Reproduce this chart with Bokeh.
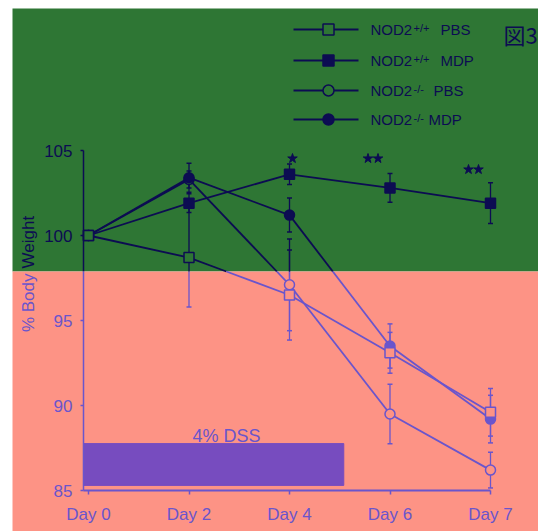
import math
from bokeh.plotting import figure
from bokeh.models import Range1d, LinearAxis, FixedTicker, BoxAnnotation
from bokeh.core.properties import value
from bokeh.embed import file_html
from bokeh.resources import INLINE

# ---------------- data ----------------
days = ["Day 0", "Day 2", "Day 4", "Day 6", "Day 7"]
day_idx = [0, 1, 2, 3, 4]

wt_pbs = [100, 98.7, 96.5, 93.1, 89.6]
wt_pbs_err = [0, 2.9, 2.65, 1.2, 1.4]
wt_mdp = [100, 101.9, 103.6, 102.8, 101.9]
wt_mdp_err = [0, 0.55, 0.6, 0.85, 1.2]
ko_pbs = [100, 103.3, 97.1, 89.5, 86.2]
ko_pbs_err = [0, 0.5, 2.7, 1.75, 1.05]
ko_mdp = [100, 103.4, 101.2, 93.5, 89.2]
ko_mdp_err = [0, 0.85, 1.0, 1.3, 1.4]

legend_names = ["NOD2", "NOD2", "NOD2", "NOD2"]
legend_sups = ["+/+", "+/+", "-/-", "-/-"]
legend_treat = ["PBS", "MDP", "PBS", "MDP"]

y_ticks = [85, 90, 95, 100, 105]
sig_days = [2, 3, 4]
sig_marks = ["*", "**", "**"]
dss_start, dss_end = -0.05, 2.54
dss_low, dss_high = 85.3, 87.76
dss_label = "4% DSS"

# ---------------- layout / style ----------------
W, H = 538, 531
X0_PX, XSTEP_PX = 88.0, 100.5
Y100_PX, YUNIT_PX = 235.0, 17.0

def px2x(px):
    return (px - X0_PX) / XSTEP_PX

def px2y(py):
    return 100 + (Y100_PX - py) / YUNIT_PX

YB = px2y(271)          # colour boundary
GREEN = "#2e7634"
SALMON = "#fd9385"
NAVY = "#0c0c52"
PURPLE = "#6a55cc"
BAR = "#774cbf"
FONT = "Liberation Sans"
AX_X = px2x(83)

def col(y):
    return NAVY if y > YB else PURPLE

def bg(y):
    return GREEN if y > YB else SALMON

p = figure(width=W, height=H, output_backend="svg", toolbar_location=None,
           x_range=Range1d(px2x(0), px2x(W)), y_range=Range1d(px2y(H), px2y(0)),
           x_axis_location=None, y_axis_location=None, min_border=0,
           background_fill_color="white", border_fill_color="white")
p.grid.visible = False
p.outline_line_color = None

p.add_layout(BoxAnnotation(left=px2x(12), bottom=YB, top=px2y(8), fill_color=GREEN,
                           fill_alpha=1, line_color=None, level="underlay"))
p.add_layout(BoxAnnotation(left=px2x(12), top=YB, fill_color=SALMON, fill_alpha=1,
                           line_color=None, level="underlay"))

# DSS bar
p.quad(left=[dss_start], right=[dss_end], bottom=[dss_low], top=[dss_high],
       fill_color=BAR, line_color=BAR, line_width=1)
p.text(x=[px2x(226)], y=[px2y(435)], text=[dss_label],
       text_font=value(FONT), text_font_size="18px", text_color=PURPLE,
       text_align="center", text_baseline="middle")

# axes
def yaxis(lo, hi, ticks, c):
    ax = LinearAxis(fixed_location=AX_X, bounds=(lo, hi), ticker=FixedTicker(ticks=ticks),
                    axis_line_color=c, axis_line_width=1.5, major_tick_line_color=c,
                    major_tick_line_width=1.5, major_tick_out=3, major_tick_in=0,
                    minor_tick_line_color=None, major_label_text_color=c,
                    major_label_text_font=FONT, major_label_text_font_size="17px",
                    major_label_standoff=8)
    p.add_layout(ax, "left")

yaxis(YB, 105, [t for t in y_ticks if t > YB], NAVY)
yaxis(85, YB, [t for t in y_ticks if t < YB], PURPLE)

xax = LinearAxis(fixed_location=85, bounds=(AX_X, 4), ticker=FixedTicker(ticks=day_idx),
                 major_label_overrides={i: d for i, d in zip(day_idx, days)},
                 axis_line_color=PURPLE, axis_line_width=2, major_tick_line_color=PURPLE,
                 major_tick_line_width=1.5, major_tick_out=4, major_tick_in=0,
                 minor_tick_line_color=None, major_label_text_color=PURPLE,
                 major_label_text_font=FONT, major_label_text_font_size="17px",
                 major_label_standoff=10)
p.add_layout(xax, "below")

# y axis title split in two colours
p.text(x=[px2x(28)], y=[px2y(273)], text=["% Body"], angle=math.pi / 2,
       text_font=value(FONT), text_font_size="17px", text_color=PURPLE,
       text_align="right", text_baseline="middle")
p.text(x=[px2x(28)], y=[px2y(268)], text=["Weight"], angle=math.pi / 2,
       text_font=value(FONT), text_font_size="17px", text_color=NAVY,
       text_align="left", text_baseline="middle")

# split helpers
def split_line(xs, ys):
    x0s, y0s, x1s, y1s, cs = [], [], [], [], []
    for i in range(len(xs) - 1):
        pts = [(xs[i], ys[i])]
        if (ys[i] - YB) * (ys[i + 1] - YB) < 0:
            t = (YB - ys[i]) / (ys[i + 1] - ys[i])
            pts.append((xs[i] + t * (xs[i + 1] - xs[i]), YB))
        pts.append((xs[i + 1], ys[i + 1]))
        for (a, b), (c, d) in zip(pts[:-1], pts[1:]):
            x0s.append(a); y0s.append(b); x1s.append(c); y1s.append(d)
            cs.append(col((b + d) / 2))
    return dict(x0=x0s, y0=y0s, x1=x1s, y1=y1s, c=cs)

series = [
    (wt_pbs, wt_pbs_err, "square", True),
    (wt_mdp, wt_mdp_err, "square", False),
    (ko_pbs, ko_pbs_err, "circle", True),
    (ko_mdp, ko_mdp_err, "circle", False),
]
draw_order = [2, 3, 1, 0]

CAP = 2.5 / XSTEP_PX
for vals, errs, mk, hollow in series:
    for xi, v, e in zip(day_idx, vals, errs):
        if e <= 0:
            continue
        seg = split_line([xi, xi], [v - e, v + e])
        p.segment("x0", "y0", "x1", "y1", source=seg, line_color="c", line_width=1.3)
        p.segment(x0=[xi - CAP, xi - CAP], y0=[v - e, v + e], x1=[xi + CAP, xi + CAP],
                  y1=[v - e, v + e], line_color=[col(v - e), col(v + e)], line_width=1.5)

for vals, errs, mk, hollow in series:
    seg = split_line(day_idx, vals)
    p.segment("x0", "y0", "x1", "y1", source=seg, line_color="c", line_width=1.8)

for k in draw_order:
    vals, errs, mk, hollow = series[k]
    fills = [bg(v) if hollow else col(v) for v in vals]
    p.scatter(day_idx, vals, marker=mk, size=10, fill_color=fills,
              line_color=[col(v) for v in vals], line_width=1.5)

# significance stars
SIG_DX_PX = {1: [3], 2: [-22, -12]}
SIG_Y_PX = [158, 158, 169]
sx, sy = [], []
for d, m, ypx in zip(sig_days, sig_marks, SIG_Y_PX):
    for dx in SIG_DX_PX[len(m)]:
        sx.append(d + dx / XSTEP_PX)
        sy.append(px2y(ypx))
p.scatter(sx, sy, marker="star", size=10, fill_color=NAVY, line_color=NAVY)

# legend (drawn manually)
LEG_Y = [29, 60, 90, 119]
LEG_SUP_X = [413, 413, 413, 413]
LEG_SUF_X = [440, 440, 433, 428]
for i, (name, sup, tr) in enumerate(zip(legend_names, legend_sups, legend_treat)):
    mk, hollow = series[i][2], series[i][3]
    ly = px2y(LEG_Y[i])
    p.line([px2x(293), px2x(358)], [ly, ly], line_color=NAVY, line_width=1.8)
    p.scatter([px2x(328)], [ly], marker=mk, size=11, line_color=NAVY, line_width=1.5,
              fill_color=GREEN if hollow else NAVY)
    p.text(x=[px2x(370)], y=[ly], text=[name], text_font=value(FONT), text_font_size="15px",
           text_color=NAVY, text_align="left", text_baseline="middle")
    p.text(x=[px2x(LEG_SUP_X[i])], y=[px2y(LEG_Y[i] - 2)], text=[sup], text_font=value(FONT),
           text_font_size="11px", text_color=NAVY, text_align="left", text_baseline="middle")
    p.text(x=[px2x(LEG_SUF_X[i])], y=[ly], text=[tr], text_font=value(FONT),
           text_font_size="15px", text_color=NAVY, text_align="left", text_baseline="middle")

p.text(x=[px2x(503)], y=[px2y(33)], text=["図3"], text_font=value("Noto Sans CJK JP"),
       text_font_size="22px", text_color=NAVY, text_align="left", text_baseline="middle")

open("out.html", "w").write(file_html(p, INLINE))
